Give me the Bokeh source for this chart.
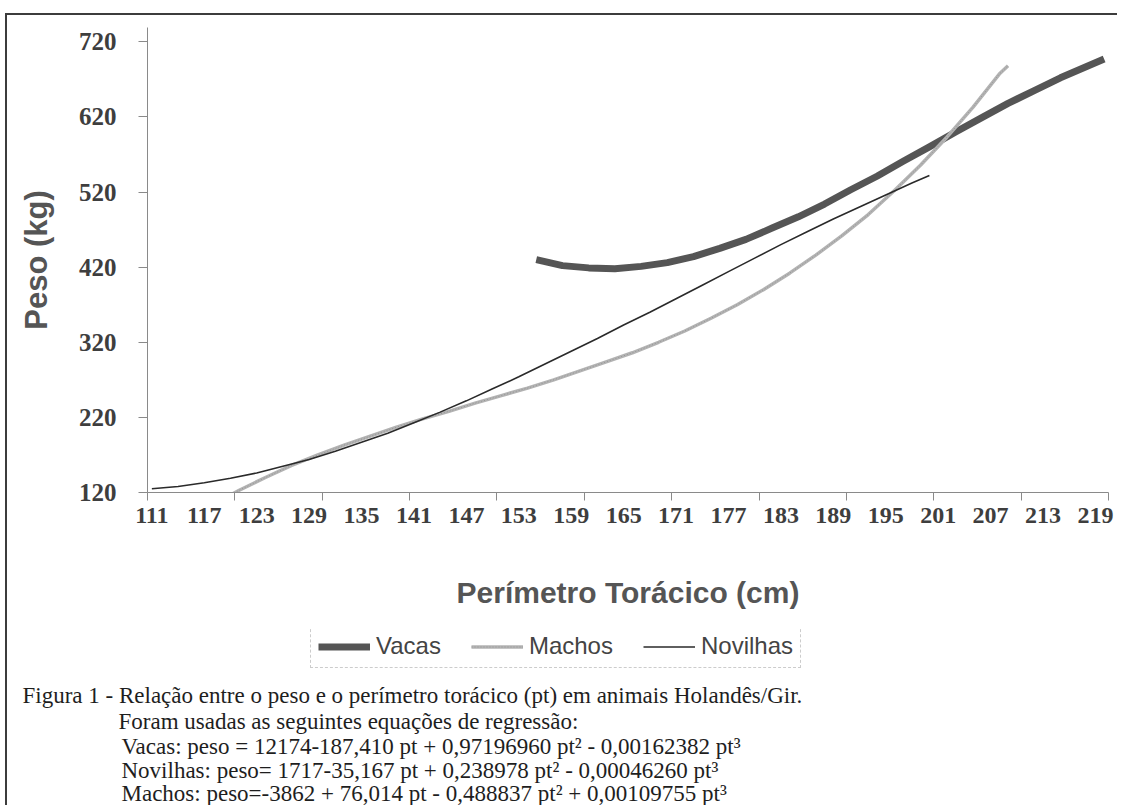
from bokeh.plotting import figure
from bokeh.layouts import column
from bokeh.models import Range1d, FixedTicker, Label, Legend, LegendItem
from bokeh.embed import file_html
from bokeh.resources import INLINE

# ---- data ----
novilhas_pt = [111, 114, 117, 120, 123, 126, 129, 132, 135, 138, 141, 144, 147, 150, 153,
               156, 159, 162, 165, 168, 171, 174, 177, 180, 183, 186, 189, 192, 195, 198, 200]
novilhas_peso = [125, 128, 133, 139, 146, 155, 164, 175, 187, 199, 213, 227, 242, 258, 274,
                 291, 308, 325, 343, 360, 378, 396, 414, 432, 450, 467, 484, 500, 516, 532, 542]

machos_pt = [118, 121, 124, 127, 130, 133, 136, 139, 142, 145, 148, 151, 154, 157, 160, 163,
             166, 169, 172, 175, 178, 181, 184, 187, 190, 193, 196, 199, 202, 205, 208, 209]
machos_peso = [104, 123, 140, 156, 170, 183, 195, 207, 218, 228, 239, 249, 259, 270, 282, 294,
               306, 320, 335, 352, 370, 390, 412, 436, 462, 490, 522, 556, 593, 633, 677, 688]

vacas_pt = [155, 158, 161, 164, 167, 170, 173, 176, 179, 182, 185, 188, 191, 194, 197, 200,
            203, 206, 209, 212, 215, 218, 220]
vacas_peso = [430, 422, 419, 418, 421, 426, 434, 445, 457, 472, 487, 504, 523, 541, 561, 580,
              600, 619, 638, 655, 672, 687, 697]

x_tick_labels = [111, 117, 123, 129, 135, 141, 147, 153, 159, 165, 171, 177, 183, 189, 195,
                 201, 207, 213, 219]
x_tick_marks = [110.5, 120.5, 130.5, 140.5, 150.5, 160.5, 170.5, 180.5, 190.5, 200.5, 210.5, 220.5]
y_ticks = [120, 220, 320, 420, 520, 620, 720]

series_names = ["Vacas", "Machos", "Novilhas"]
x_title = "Perímetro Torácico (cm)"
y_title = "Peso (kg)"
caption_lines = [
    "Figura 1 - Relação entre o peso e o perímetro torácico (pt) em animais Holandês/Gir.",
    "Foram usadas as seguintes equações de regressão:",
    "Vacas: peso = 12174-187,410 pt + 0,97196960 pt² - 0,00162382 pt³",
    "Novilhas: peso= 1717-35,167 pt + 0,238978 pt² - 0,00046260 pt³",
    "Machos: peso=-3862 + 76,014 pt - 0,488837 pt² + 0,00109755 pt³",
]

axis_color = "#8a8a8a"
tick_text = "#3e3e3e"
title_text = "#555555"
VACAS = dict(line_color="#555555", line_width=7, line_join="round")
MACHOS = dict(line_color="#b3b3b3", line_width=3.5)
MACHOS_TEX = dict(line_color="#8c8c8c", line_width=1, line_dash="1 2", line_alpha=0.8)
NOVILHAS = dict(line_color="#2a2a2a", line_width=1.6)

W = 1110
H1 = 613
H2 = 177

# ---------------- chart ----------------
p = figure(width=W, height=H1, output_backend="svg", toolbar_location=None,
           x_range=Range1d(110.5, 220.5), y_range=Range1d(120, 739),
           min_border_left=140, min_border_right=9, min_border_top=12, min_border_bottom=136)
p.frame_align = False
p.outline_line_color = None
p.xgrid.visible = False
p.ygrid.visible = False

xa = p.xaxis[0]
xa.ticker = FixedTicker(ticks=x_tick_labels, minor_ticks=x_tick_marks)
xa.axis_line_color = axis_color
xa.major_tick_out = 0
xa.major_tick_in = 0
xa.minor_tick_out = 8
xa.minor_tick_in = 0
xa.minor_tick_line_color = axis_color
xa.major_label_standoff = 7
xa.major_label_text_font = "Liberation Serif"
xa.major_label_text_font_style = "bold"
xa.major_label_text_font_size = "24px"
xa.major_label_text_color = tick_text
xa.axis_label = x_title
xa.axis_label_standoff = 50
xa.axis_label_text_font = "Liberation Sans"
xa.axis_label_text_font_style = "bold"
xa.axis_label_text_font_size = "30px"
xa.axis_label_text_color = title_text

ya = p.yaxis[0]
ya.ticker = FixedTicker(ticks=y_ticks)
ya.axis_line_color = axis_color
ya.major_tick_line_color = axis_color
ya.major_tick_out = 9
ya.major_tick_in = 0
ya.minor_tick_out = 0
ya.minor_tick_in = 0
ya.major_label_standoff = 22
ya.major_label_text_font = "Liberation Serif"
ya.major_label_text_font_style = "bold"
ya.major_label_text_font_size = "25px"
ya.major_label_text_color = tick_text
ya.axis_label = y_title
ya.axis_label_standoff = 22
ya.axis_label_text_font = "Liberation Sans"
ya.axis_label_text_font_style = "bold"
ya.axis_label_text_font_size = "31px"
ya.axis_label_text_color = title_text

p.line(vacas_pt, vacas_peso, **VACAS)
p.line(machos_pt, machos_peso, **MACHOS)
p.line(machos_pt, machos_peso, **MACHOS_TEX)
p.line(novilhas_pt, novilhas_peso, **NOVILHAS)

# ---------------- legend + caption ----------------
p2 = figure(width=W, height=H2, output_backend="svg", toolbar_location=None,
            x_range=Range1d(0, W), y_range=Range1d(H2, 0),
            x_axis_type=None, y_axis_type=None, min_border=0)
p2.frame_align = False
p2.outline_line_color = None
p2.xgrid.visible = False
p2.ygrid.visible = False

# legend-only renderers, placed outside the visible range
off_x = [-50, -40]
off_y = [-50, -40]
lv = p2.line(off_x, off_y, **VACAS)
lm = p2.line(off_x, off_y, **MACHOS)
lm2 = p2.line(off_x, off_y, **MACHOS_TEX)
ln = p2.line(off_x, off_y, **NOVILHAS)
legend = Legend(items=[LegendItem(label=series_names[0], renderers=[lv]),
                       LegendItem(label=series_names[1], renderers=[lm, lm2]),
                       LegendItem(label=series_names[2], renderers=[ln])],
                location=(303, H2 - 40), orientation="horizontal")
legend.border_line_color = "#9a9a9a"
legend.border_line_dash = "4 3"
legend.border_line_width = 1
legend.background_fill_alpha = 0
legend.label_text_font = "Liberation Sans"
legend.label_text_font_size = "24px"
legend.label_text_color = "#444444"
legend.glyph_width = 52
legend.glyph_height = 27
legend.label_height = 27
legend.label_standoff = 6
legend.spacing = 30
legend.padding = 7
legend.margin = 0
p2.add_layout(legend, "center")

cap_x = [15, 111, 114, 114, 114]
cap_y = [67, 93, 118, 142, 165]
for t, cx, cy in zip(caption_lines, cap_x, cap_y):
    p2.add_layout(Label(x=cx, y=cy, text=t, text_align="left", text_baseline="middle",
                        text_font="Liberation Serif", text_font_size="23px",
                        text_color="#1e1e1e"))

layout = column(p, p2, spacing=0)
layout.styles = {"margin-left": "5px", "margin-top": "13px",
                 "border-left": "2px solid #3c3c3c", "border-top": "2px solid #3c3c3c"}

open("out.html", "w").write(file_html(layout, INLINE))
